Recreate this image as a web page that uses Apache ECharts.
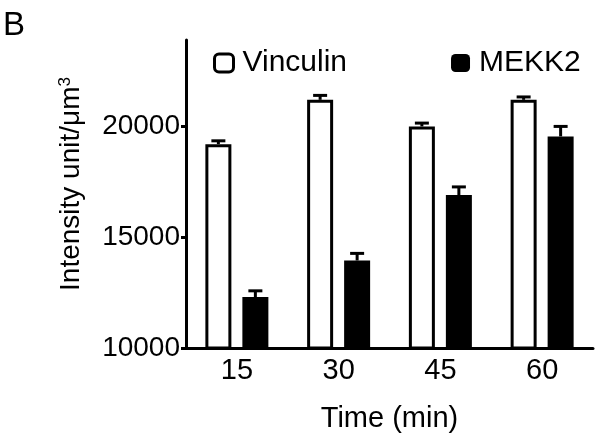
<!DOCTYPE html>
<html>
<head>
<meta charset="utf-8">
<script src="https://cdn.jsdelivr.net/npm/echarts@6/dist/echarts.min.js"></script>
<style>
  html, body { margin: 0; padding: 0; background: #fff; }
  #chart { width: 600px; height: 439px; }
</style>
</head>
<body>
<div id="chart"></div>
<script>
// data
var timeLabels = ['15', '30', '45', '60']
var vinculin = [19200, 21200, 20000, 21200]
var vinculinErr = [150, 200, 150, 130]
var mekk2 = [12300, 13950, 16900, 19550]
var mekk2Err = [280, 320, 370, 450]
var yTicks = [10000, 15000, 20000]

var barW = 26
var barGapPx = 11
var font = 'Liberation Sans, Arial, sans-serif'

function errData(vals, errs) {
  return vals.map(function (v, i) { return [i, v, errs[i]] })
}

// error bar: stem up from bar top plus a cap
function errRender(side) {
  return function (params, api) {
    var base = api.coord([api.value(0), api.value(1)])
    var top = api.coord([api.value(0), api.value(1) + api.value(2)])
    var x = base[0] + side * (barW + barGapPx) / 2
    var style = { stroke: '#000', lineWidth: 3 }
    return {
      type: 'group',
      children: [
        { type: 'line', shape: { x1: x, y1: base[1], x2: x, y2: top[1] }, style: style },
        { type: 'line', shape: { x1: x - 7, y1: top[1], x2: x + 7, y2: top[1] }, style: style }
      ]
    }
  }
}

var chart = echarts.init(document.getElementById('chart'))
chart.setOption({
  animation: false,
  title: {
    text: 'B',
    left: -2,
    top: 4,
    textStyle: { fontFamily: font, fontSize: 33, fontWeight: 'normal', color: '#000' }
  },
  legend: {
    left: 213,
    top: 48,
    padding: 0,
    itemWidth: 19,
    itemHeight: 18,
    itemGap: 104,
    textStyle: { fontFamily: font, fontSize: 30, color: '#000', padding: [0, 0, 0, 4] },
    data: [
      { name: 'Vinculin', icon: 'roundRect', itemStyle: { color: '#fff', borderColor: '#000', borderWidth: 3 } },
      { name: 'MEKK2', icon: 'roundRect', itemStyle: { color: '#000', borderColor: '#000', borderWidth: 0 } }
    ]
  },
  grid: { left: 186, right: 7, top: 40, bottom: 91 },
  xAxis: {
    type: 'category',
    data: timeLabels,
    name: 'Time (min)',
    nameLocation: 'middle',
    nameGap: 56,
    nameTextStyle: { fontFamily: font, fontSize: 29, color: '#000' },
    axisLine: { lineStyle: { color: '#000', width: 3 } },
    axisTick: { show: false },
    axisLabel: { fontFamily: font, fontSize: 29, color: '#000', margin: 8 }
  },
  yAxis: {
    type: 'value',
    min: 10000,
    max: 23900,
    interval: 5000,
    name: 'Intensity unit/μm{sup|3}',
    nameLocation: 'middle',
    nameGap: 100,
    nameTextStyle: {
      fontFamily: font, fontSize: 28, color: '#000', padding: [0, 0, 0, 20],
      rich: { sup: { fontFamily: font, fontSize: 17, color: '#000', verticalAlign: 'top', padding: [0, 0, 12, 0] } }
    },
    splitLine: { show: false },
    axisLine: { show: true, lineStyle: { color: '#000', width: 3 } },
    axisTick: { show: true, length: 5, customValues: yTicks, lineStyle: { width: 3 } },
    axisLabel: {
      fontFamily: font, fontSize: 28, color: '#000', margin: 6, customValues: yTicks,
      formatter: function (v) { return String(v) }
    }
  },
  series: [
    {
      name: 'Vinculin',
      type: 'bar',
      data: vinculin,
      barWidth: barW,
      barGap: (barGapPx / barW * 100) + '%',
      itemStyle: { color: '#fff', borderColor: '#000', borderWidth: 3 }
    },
    {
      name: 'MEKK2',
      type: 'bar',
      data: mekk2,
      barWidth: barW,
      itemStyle: { color: '#000', borderColor: '#000', borderWidth: 3 }
    },
    {
      type: 'custom',
      renderItem: errRender(-1),
      data: errData(vinculin, vinculinErr),
      encode: { x: 0, y: 1 },
      z: 3
    },
    {
      type: 'custom',
      renderItem: errRender(1),
      data: errData(mekk2, mekk2Err),
      encode: { x: 0, y: 1 },
      z: 3
    }
  ]
})
</script>
</body>
</html>
